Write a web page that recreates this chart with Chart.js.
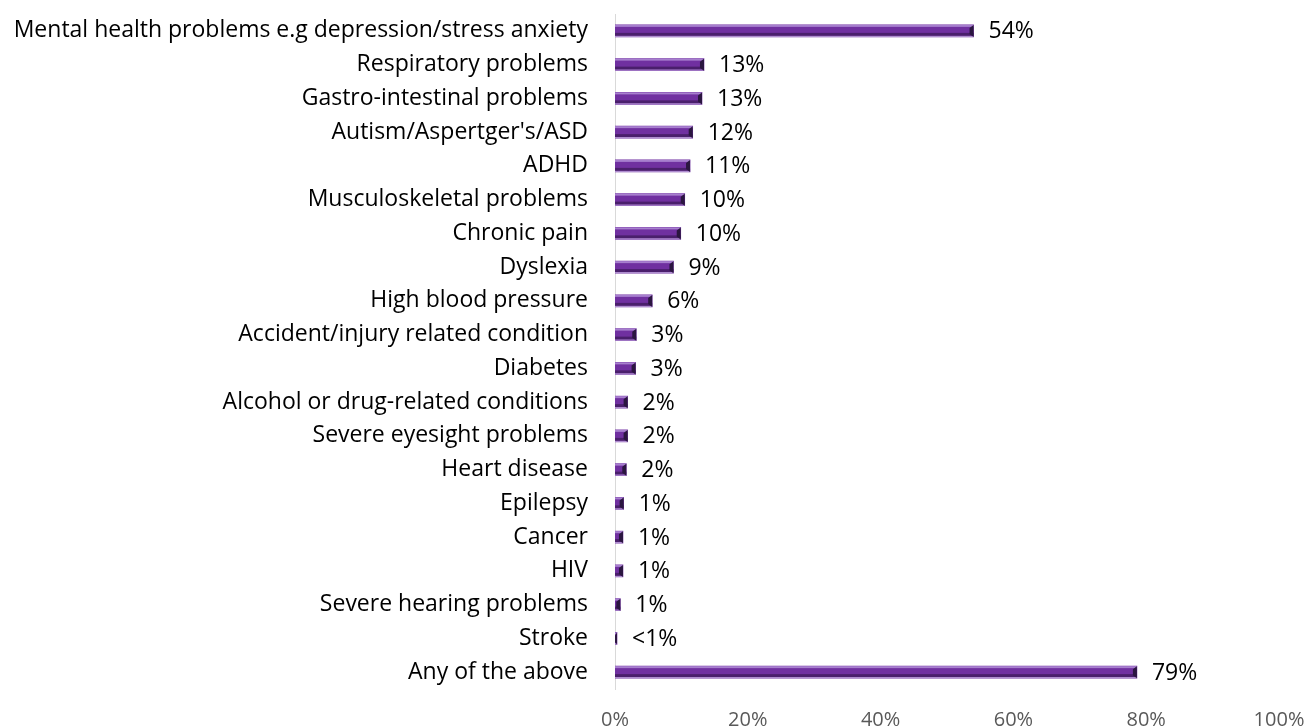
<!DOCTYPE html>
<html>
<head>
<meta charset="utf-8">
<script src="https://cdn.jsdelivr.net/npm/chart.js@4.4.0/dist/chart.umd.min.js"></script>
<style>
    html, body { margin: 0; padding: 0; background: #ffffff; }
    #wrap { width: 1309px; height: 727px; position: relative; }
</style>
</head>
<body>
<div id="wrap"><canvas id="chart"></canvas></div>
<script>
// Chart data
const categories = [
    'Mental health problems e.g depression/stress anxiety',
    'Respiratory problems',
    'Gastro-intestinal problems',
    "Autism/Aspertger's/ASD",
    'ADHD',
    'Musculoskeletal problems',
    'Chronic pain',
    'Dyslexia',
    'High blood pressure',
    'Accident/injury related condition',
    'Diabetes',
    'Alcohol or drug-related conditions',
    'Severe eyesight problems',
    'Heart disease',
    'Epilepsy',
    'Cancer',
    'HIV',
    'Severe hearing problems',
    'Stroke',
    'Any of the above'
];
const values = [54, 13.4, 13.1, 11.7, 11.3, 10.5, 9.9, 8.8, 5.6, 3.2, 3.1, 1.9, 1.9, 1.7, 1.3, 1.2, 1.2, 0.8, 0.3, 78.6];
const valueLabels = ['54%', '13%', '13%', '12%', '11%', '10%', '10%', '9%', '6%', '3%', '3%',
                     '2%', '2%', '2%', '1%', '1%', '1%', '1%', '<1%', '79%'];
const tickValues = [0, 20, 40, 60, 80, 100];

const FONT = '"Open Sans", "Noto Sans", sans-serif';

/**
 * Bevel look for the bars plus the value labels
 */
const barDecor = {
    id: 'barDecor',
    afterDatasetsDraw(chart) {
        const ctx = chart.ctx;
        const meta = chart.getDatasetMeta(0);
        ctx.save();
        meta.data.forEach((bar, i) => {
            const x0 = bar.base;
            const x1 = bar.x;
            const top = bar.y - bar.height / 2;
            const h = bar.height;
            const w = x1 - x0;

            // light top edge, dark bottom edge
            ctx.fillStyle = '#a77fce';
            ctx.fillRect(x0, top, w, 2);
            ctx.fillStyle = '#4a1f6c';
            ctx.fillRect(x0, top + h - 4, w, 3);
            ctx.fillStyle = '#b89ad6';
            ctx.fillRect(x0, top + h - 1, w, 1);

            // dark end cap
            const cap = Math.min(4, w);
            ctx.fillStyle = '#2b1640';
            ctx.beginPath();
            ctx.moveTo(x1 - cap, top + 3);
            ctx.lineTo(x1, top);
            ctx.lineTo(x1, top + h);
            ctx.lineTo(x1 - cap, top + h - 3);
            ctx.closePath();
            ctx.fill();

            // value label
            ctx.fillStyle = '#000000';
            ctx.font = '23px ' + FONT;
            ctx.textAlign = 'left';
            ctx.textBaseline = 'middle';
            ctx.fillText(valueLabels[i], x1 + 15, bar.y + 1);
        });
        ctx.restore();
    }
};

new Chart(document.getElementById('chart'), {
    type: 'bar',
    data: {
        labels: categories,
        datasets: [{
            data: values,
            backgroundColor: '#7030a0',
            borderWidth: 0,
            barThickness: 12
        }]
    },
    options: {
        indexAxis: 'y',
        responsive: true,
        maintainAspectRatio: false,
        animation: false,
        layout: { padding: { top: 14, right: 30, left: 0, bottom: 0 } },
        plugins: {
            legend: { display: false },
            tooltip: { enabled: false }
        },
        scales: {
            x: {
                min: 0,
                max: 100,
                afterBuildTicks: scale => {
                    scale.ticks = tickValues.map(v => ({ value: v }));
                },
                afterFit: scale => {
                    scale.height = 38;
                    scale.paddingLeft = 0;
                    scale.paddingRight = 0;
                },
                grid: { display: false, drawTicks: false },
                border: { display: false },
                ticks: {
                    padding: 19,
                    color: '#595959',
                    font: { family: FONT, size: 20 },
                    callback: v => v + '%'
                }
            },
            y: {
                afterFit: scale => {
                    scale.width = 615;
                    scale.paddingTop = 0;
                    scale.paddingBottom = 0;
                },
                grid: { display: false, drawTicks: false },
                border: { display: true, color: '#d9d9d9', width: 1 },
                ticks: {
                    padding: 27,
                    color: '#000000',
                    autoSkip: false,
                    font: { family: FONT, size: 23 }
                }
            }
        }
    },
    plugins: [barDecor]
});
</script>
</body>
</html>
